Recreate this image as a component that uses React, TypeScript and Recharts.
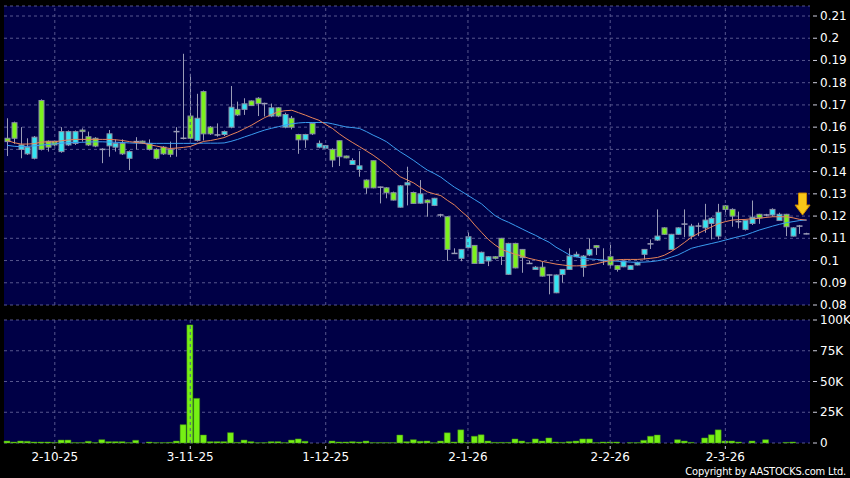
import React from 'react'
import { ComposedChart, Bar, Line, XAxis, YAxis, CartesianGrid, ReferenceLine, ReferenceDot } from 'recharts'

// daily candles, oldest first
const open = [
  0.155, 0.162, 0.15, 0.148, 0.146, 0.172, 0.1537, 0.1537, 0.149, 0.152,
  0.1527, 0.1587, 0.1557, 0.155, 0.15, 0.1516, 0.151, 0.1527, 0.146, 0.1535,
  0.1537, 0.1527, 0.15, 0.151, 0.15, 0.158, 0.155, 0.165, 0.154, 0.176,
  0.16, 0.1565, 0.1567, 0.16, 0.168, 0.168, 0.1718, 0.173, 0.1706, 0.165,
  0.1687, 0.16, 0.164, 0.1567, 0.1543, 0.1617, 0.151, 0.1505, 0.15, 0.1539,
  0.147, 0.1432, 0.141, 0.1362, 0.1449, 0.133, 0.1327, 0.1305, 0.124, 0.134,
  0.1306, 0.1258, 0.1272, 0.1248, 0.1205, 0.1197, 0.1032, 0.101, 0.1058, 0.1068,
  0.0987, 0.0998, 0.1017, 0.11, 0.0938, 0.1077, 0.105, 0.0987, 0.096, 0.097,
  0.0935, 0.0855, 0.0937, 0.096, 0.1017, 0.097, 0.1025, 0.1067, 0.1, 0.1017,
  0.0977, 0.0972, 0.096, 0.098, 0.1028, 0.1075, 0.1092, 0.1147, 0.105, 0.1118,
  0.1164, 0.111, 0.1155, 0.1147, 0.1167, 0.111, 0.1246, 0.123, 0.1175, 0.114,
  0.1167, 0.1208, 0.1205, 0.1205, 0.118, 0.1208, 0.111, 0.1155, 0.112,
]
const high = [
  0.164, 0.1625, 0.16, 0.155, 0.156, 0.1725, 0.154, 0.154, 0.16, 0.1585,
  0.1585, 0.1595, 0.158, 0.1555, 0.1505, 0.1587, 0.1545, 0.1545, 0.1495, 0.1555,
  0.154, 0.1545, 0.1505, 0.1515, 0.1535, 0.16, 0.193, 0.184, 0.175, 0.1765,
  0.1605, 0.1617, 0.1585, 0.1785, 0.1715, 0.173, 0.172, 0.1735, 0.171, 0.1706,
  0.169, 0.1665, 0.165, 0.157, 0.157, 0.162, 0.154, 0.152, 0.1505, 0.154,
  0.1472, 0.146, 0.1492, 0.1365, 0.145, 0.1333, 0.133, 0.131, 0.134, 0.1422,
  0.131, 0.1362, 0.1275, 0.1282, 0.121, 0.12, 0.1055, 0.1052, 0.1127, 0.107,
  0.104, 0.102, 0.102, 0.1102, 0.108, 0.108, 0.1052, 0.1, 0.0975, 0.0995,
  0.0937, 0.0937, 0.0962, 0.1055, 0.104, 0.1025, 0.11, 0.107, 0.1055, 0.107,
  0.098, 0.1, 0.098, 0.0995, 0.1052, 0.1095, 0.123, 0.115, 0.112, 0.115,
  0.123, 0.1165, 0.117, 0.1255, 0.1195, 0.1255, 0.125, 0.1235, 0.122, 0.1185,
  0.127, 0.121, 0.121, 0.1235, 0.1215, 0.121, 0.115, 0.116, 0.1125,
]
const low = [
  0.147, 0.1525, 0.146, 0.1475, 0.1455, 0.1495, 0.149, 0.1515, 0.1485, 0.1515,
  0.152, 0.1535, 0.1515, 0.151, 0.1438, 0.1467, 0.149, 0.1475, 0.1407, 0.15,
  0.1525, 0.1495, 0.1455, 0.1475, 0.1465, 0.1467, 0.1545, 0.1545, 0.1535, 0.154,
  0.1565, 0.1557, 0.156, 0.1595, 0.165, 0.1655, 0.1695, 0.165, 0.1648, 0.1645,
  0.1645, 0.1595, 0.159, 0.148, 0.1507, 0.1565, 0.1505, 0.15, 0.142, 0.1425,
  0.146, 0.143, 0.1377, 0.13, 0.1325, 0.1257, 0.128, 0.127, 0.1238, 0.1248,
  0.1255, 0.1255, 0.1197, 0.1245, 0.1195, 0.0999, 0.103, 0.0997, 0.1055, 0.0985,
  0.0985, 0.0975, 0.1005, 0.098, 0.0935, 0.0965, 0.0945, 0.0985, 0.0958, 0.0928,
  0.0848, 0.0853, 0.09, 0.0958, 0.1015, 0.0927, 0.102, 0.1025, 0.098, 0.0966,
  0.095, 0.097, 0.0958, 0.0978, 0.1005, 0.1052, 0.1088, 0.1115, 0.1048, 0.1115,
  0.1105, 0.1095, 0.111, 0.1125, 0.1095, 0.1095, 0.1205, 0.1152, 0.1145, 0.1135,
  0.116, 0.1165, 0.12, 0.1198, 0.1178, 0.111, 0.1108, 0.112, 0.1118,
]
const close = [
  0.1535, 0.155, 0.152, 0.151, 0.1555, 0.15, 0.151, 0.152, 0.158, 0.158,
  0.158, 0.158, 0.152, 0.1515, 0.15, 0.157, 0.1527, 0.148, 0.149, 0.1535,
  0.153, 0.15, 0.146, 0.148, 0.1478, 0.158, 0.155, 0.155, 0.164, 0.157,
  0.157, 0.1565, 0.158, 0.169, 0.1655, 0.1705, 0.1697, 0.1706, 0.1706, 0.1687,
  0.165, 0.1657, 0.16, 0.1543, 0.1567, 0.157, 0.1527, 0.1517, 0.1452, 0.1467,
  0.1462, 0.145, 0.1426, 0.1327, 0.1327, 0.133, 0.1305, 0.1272, 0.1336, 0.135,
  0.1257, 0.13, 0.126, 0.128, 0.1205, 0.105, 0.1032, 0.105, 0.1107, 0.0987,
  0.1037, 0.1017, 0.101, 0.1018, 0.1077, 0.0967, 0.1013, 0.0987, 0.097, 0.093,
  0.0935, 0.0935, 0.096, 0.102, 0.1028, 0.102, 0.105, 0.1058, 0.1, 0.098,
  0.096, 0.0998, 0.0977, 0.099, 0.105, 0.1075, 0.111, 0.1118, 0.1118, 0.1147,
  0.1164, 0.1155, 0.1155, 0.1182, 0.119, 0.1217, 0.123, 0.12, 0.1175, 0.118,
  0.1195, 0.1192, 0.1205, 0.123, 0.1208, 0.1152, 0.1147, 0.1155, 0.112,
]
// moving averages as drawn (short = orange, long = blue)
const maShort = [
  0.154, 0.153, 0.1524, 0.1524, 0.1526, 0.1533, 0.1534, 0.1534, 0.1539, 0.1542,
  0.1545, 0.1545, 0.1545, 0.1545, 0.1545, 0.1545, 0.1543, 0.154, 0.1535, 0.1531,
  0.1528, 0.1521, 0.1515, 0.1509, 0.1504, 0.1506, 0.1509, 0.1513, 0.1525, 0.1536,
  0.154, 0.1546, 0.1553, 0.1566, 0.1578, 0.1593, 0.1608, 0.1626, 0.1643, 0.1657,
  0.1669, 0.1674, 0.1676, 0.1665, 0.1654, 0.1642, 0.1631, 0.1612, 0.1594, 0.157,
  0.1549, 0.153, 0.1512, 0.1493, 0.1474, 0.1452, 0.1429, 0.1402, 0.1377, 0.1363,
  0.1349, 0.1328, 0.1309, 0.13, 0.1292, 0.127, 0.125, 0.1222, 0.1196, 0.116,
  0.1127, 0.1095, 0.107, 0.105, 0.1038, 0.1028, 0.102, 0.101, 0.1003, 0.0996,
  0.099, 0.0984, 0.098, 0.0976, 0.0976, 0.0977, 0.098, 0.0986, 0.0993, 0.1,
  0.1003, 0.1005, 0.1005, 0.1005, 0.1007, 0.101, 0.1014, 0.1024, 0.104, 0.106,
  0.1082, 0.1105, 0.1122, 0.1137, 0.1152, 0.1166, 0.1175, 0.1182, 0.1184, 0.1185,
  0.1188, 0.119, 0.1194, 0.1197, 0.1197, 0.1197, 0.1192, 0.1185, 0.1182,
]
const maLong = [
  0.1518, 0.1514, 0.1512, 0.1514, 0.1516, 0.1519, 0.1522, 0.1525, 0.1528, 0.153,
  0.1531, 0.1532, 0.1533, 0.1534, 0.1534, 0.1533, 0.1532, 0.1531, 0.1529, 0.1528,
  0.1528, 0.1527, 0.1527, 0.1527, 0.1527, 0.1527, 0.1527, 0.1527, 0.1527, 0.1528,
  0.1528, 0.1528, 0.1529, 0.1536, 0.1545, 0.1556, 0.1566, 0.1577, 0.1587, 0.1595,
  0.1602, 0.1609, 0.1615, 0.1619, 0.1621, 0.1621, 0.1621, 0.1621, 0.1615, 0.1608,
  0.1601, 0.1598, 0.1594, 0.158, 0.1564, 0.155, 0.1534, 0.1511, 0.1489, 0.147,
  0.145, 0.1428, 0.1407, 0.1392, 0.1375, 0.1352, 0.133, 0.1312, 0.1293, 0.1274,
  0.1255, 0.1228, 0.1202, 0.1185, 0.1172, 0.1157, 0.1142, 0.1127, 0.1113, 0.1097,
  0.1082, 0.106, 0.1043, 0.1025, 0.1017, 0.101, 0.1007, 0.1005, 0.1002, 0.0999,
  0.0997, 0.0995, 0.0993, 0.0992, 0.0993, 0.0995, 0.0999, 0.1005, 0.1015, 0.1025,
  0.104, 0.1055, 0.1063, 0.107, 0.1077, 0.1084, 0.1092, 0.11, 0.1108, 0.1115,
  0.1126, 0.1137, 0.1146, 0.1155, 0.1163, 0.117, 0.1175, 0.118, 0.1182,
]
// volume in thousands of shares
const volumeK = [
  1.6, 0.8, 1.6, 1.4, 0.8, 0.8, 0.8, 0.5, 2.4, 2.4,
  0.3, 0.3, 1.4, 0.3, 2.7, 1.1, 1.1, 1.1, 0.3, 2.2,
  0, 0.8, 0.3, 0.3, 0.5, 1.6, 14.9, 96, 36.3, 6.5,
  1.1, 1.1, 1.1, 8.4, 0.5, 2.4, 1.1, 0.3, 0.3, 1.1,
  1.1, 0.3, 2.4, 3.3, 1.4, 0, 0, 0, 1.6, 0.8,
  0.8, 1.1, 0.8, 1.6, 0.3, 0.3, 0.3, 0.3, 6.5, 1.1,
  2.7, 1.4, 1.6, 0.2, 1.6, 8.3, 0.8, 10.7, 0.5, 5.5,
  6.7, 1.6, 0.5, 0.5, 0.5, 3.3, 1.6, 0.3, 3.3, 1.6,
  4.1, 0.8, 0.5, 1.1, 1.6, 3.3, 3.3, 0.3, 0.8, 0.8,
  0.8, 0, 0.3, 0.3, 2.2, 5.5, 6.5, 0, 0, 2.7,
  1.6, 0.5, 0, 4.1, 6.7, 10.7, 1.6, 1.6, 0.8, 0,
  1.6, 0, 2.7, 0, 0, 0.5, 0.8, 0, 0,
]

const dateTickIdx = [7, 27, 47, 68, 89, 106]
const dateTickLabels = ['2-10-25', '3-11-25', '1-12-25', '2-1-26', '2-2-26', '2-3-26']
const priceTicks = [0.08, 0.09, 0.1, 0.11, 0.12, 0.13, 0.14, 0.15, 0.16, 0.17, 0.18, 0.19, 0.2, 0.21]
const volumeTicks = [0, 25000, 50000, 75000, 100000]

const rows = open.map((o, i) => ({
  i,
  o,
  h: high[i],
  l: low[i],
  c: close[i],
  maShort: maShort[i],
  maLong: maLong[i],
  v: volumeK[i] * 1000,
}))

const NAVY = '#000046'
const GRID = '#56568e'
const UP = '#33e4f2'
const DOWN = '#7cf21c'
const WICK = '#9a9cb6'
const FONT = '"DejaVu Sans", Verdana, sans-serif'
const X_DOMAIN = [-0.5, 118.5]

const Candle = (props: any) => {
  const { x, y, width, height, payload } = props
  if (x == null || !payload) return null
  const { o, h, l, c } = payload
  const k = h > l ? height / (h - l) : 0
  const py = (v: number) => y + (h - v) * k
  const cx = Math.round(x + width / 2) + 0.5
  const top = py(Math.max(o, c))
  const bot = py(Math.min(o, c))
  return (
    <g>
      <line x1={cx} x2={cx} y1={y} y2={y + height} stroke={WICK} strokeWidth={1} />
      {o === c ? (
        <line x1={cx - 3} x2={cx + 3} y1={top} y2={top} stroke={WICK} strokeWidth={1.5} />
      ) : (
        <rect x={cx - 2.5} y={top} width={5} height={Math.max(bot - top, 1)} fill={c > o ? UP : DOWN} stroke="#8a8fa6" strokeWidth={1} />
      )}
    </g>
  )
}

const Arrow = (props: any) => {
  const { cx, cy } = props
  if (cx == null) return null
  const t = cy - 11
  const d = `M${cx - 4},${t} h8 v12 h3.5 L${cx},${t + 22} L${cx - 7.5},${t + 12} h3.5 Z`
  return <path d={d} fill="#f7c619" stroke="#d08a00" strokeWidth={1} />
}

const ValueTick = (props: any) => {
  const { x, y, payload, fmt } = props
  return (
    <g>
      <line x1={x + 3} x2={x + 7} y1={y} y2={y} stroke="#cfcfdf" strokeWidth={1} />
      <text x={x + 10} y={y} fill="#ffffff" fontSize={12} fontFamily={FONT} textAnchor="start" dominantBaseline="central">
        {fmt(payload.value)}
      </text>
    </g>
  )
}

const DateTick = (props: any) => {
  const { x, y, payload } = props
  const label = dateTickLabels[dateTickIdx.indexOf(payload.value)]
  return (
    <g>
      <line x1={x} x2={x} y1={y + 3} y2={y + 6} stroke="#cfcfdf" strokeWidth={1} />
      <text x={x} y={y + 14} fill="#ffffff" fontSize={12} fontFamily={FONT} textAnchor="middle" dominantBaseline="central">
        {label}
      </text>
    </g>
  )
}

const fmtPrice = (v: number) => String(Number(v.toFixed(2)))
const fmtVolume = (v: number) => (v === 0 ? '0' : `${v / 1000}K`)

const App: React.FC = () => {
  return (
    <div style={{ position: 'absolute', left: 0, top: 0, width: 850, height: 478, background: '#000', overflow: 'hidden' }}>
      <div style={{ position: 'absolute', left: 0, top: 0 }}>
        <ComposedChart width={850} height={318} data={rows} margin={{ top: 6, right: 0, bottom: 13, left: 4 }}>
          <CartesianGrid vertical={false} stroke={GRID} strokeDasharray="3 3" fill={NAVY} fillOpacity={1} />
          <XAxis type="number" dataKey="i" domain={X_DOMAIN} hide />
          <YAxis
            orientation="right"
            domain={[0.08, 0.2145]}
            ticks={priceTicks}
            width={40}
            axisLine={false}
            tickLine={false}
            tickSize={0}
            tickMargin={0}
            allowDataOverflow
            interval={0}
            tick={(p: any) => <ValueTick {...p} fmt={fmtPrice} />}
          />
          {dateTickIdx.map((t) => (
            <ReferenceLine key={t} x={t} stroke={GRID} strokeDasharray="3 3" />
          ))}
          <Bar dataKey={(d: any) => [d.l, d.h]} shape={Candle} barSize={6} isAnimationActive={false} />
          <Line type="linear" dataKey="maLong" stroke="#3a9cf0" strokeWidth={1} dot={false} isAnimationActive={false} />
          <Line type="linear" dataKey="maShort" stroke="#e8845a" strokeWidth={1} dot={false} isAnimationActive={false} />
          <ReferenceDot x={117.4} y={0.1254} shape={Arrow} />
        </ComposedChart>
      </div>
      <div style={{ position: 'absolute', left: 0, top: 310 }}>
        <ComposedChart width={850} height={168} data={rows} margin={{ top: 10, right: 0, bottom: 0, left: 4 }}>
          <CartesianGrid vertical={false} stroke={GRID} strokeDasharray="3 3" fill={NAVY} fillOpacity={1} />
          <XAxis
            type="number"
            dataKey="i"
            domain={X_DOMAIN}
            ticks={dateTickIdx}
            interval={0}
            height={35}
            axisLine={false}
            tickLine={false}
            tickSize={0}
            tickMargin={0}
            tick={(p: any) => <DateTick {...p} />}
          />
          <YAxis
            orientation="right"
            domain={[0, 100000]}
            ticks={volumeTicks}
            width={40}
            axisLine={false}
            tickLine={false}
            tickSize={0}
            tickMargin={0}
            interval={0}
            tick={(p: any) => <ValueTick {...p} fmt={fmtVolume} />}
          />
          {dateTickIdx.map((t) => (
            <ReferenceLine key={t} x={t} stroke={GRID} strokeDasharray="3 3" />
          ))}
          <Bar dataKey="v" barSize={6} fill="#76f014" stroke="#3f8a12" strokeWidth={0.5} isAnimationActive={false} />
        </ComposedChart>
      </div>
      <div
        style={{
          position: 'absolute',
          right: 4,
          top: 466,
          color: '#fff',
          fontFamily: '"DejaVu Sans Condensed", "DejaVu Sans", sans-serif',
          fontSize: 11,
          lineHeight: '12px',
          letterSpacing: '-0.2px',
          whiteSpace: 'nowrap',
        }}
      >
        Copyright by AASTOCKS.com Ltd.
      </div>
    </div>
  )
}

export default App
